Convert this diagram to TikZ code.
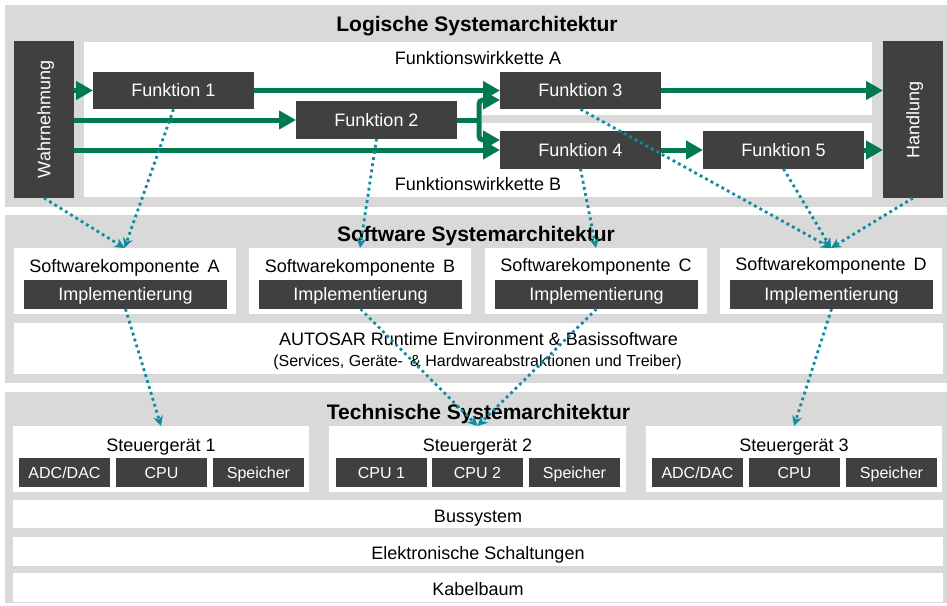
\documentclass[tikz,border=0pt]{standalone}
\usepackage{fontspec}
\setmainfont{Liberation Sans}
\usetikzlibrary{arrows.meta,calc}
\definecolor{panelgray}{RGB}{217,217,217}
\definecolor{boxgray}{RGB}{64,64,64}
\definecolor{flowgreen}{RGB}{0,122,78}
\definecolor{mapteal}{RGB}{14,140,158}
\newcommand{\fsz}[1]{\fontsize{#1}{#1}\selectfont}

\begin{document}
\begin{tikzpicture}[x=1pt,y=-1pt,
  every node/.style={inner sep=0pt,outer sep=0pt,font=\fsz{18}},
  panel/.style={fill=panelgray,minimum width=942pt},
  lightbox/.style={fill=white},
  darkbox/.style={fill=boxgray,text=white,text height=12.9pt,text depth=0pt},
  smallbox/.style={fill=boxgray,text=white,font=\fsz{16},text height=11.5pt,text depth=0pt,
    minimum width=91pt,minimum height=29pt},
  funcbox/.style={darkbox,minimum width=161pt,minimum height=37.5pt},
  implbox/.style={darkbox,minimum width=203pt,minimum height=29pt},
  swcbox/.style={lightbox,minimum width=222pt,minimum height=66pt},
  ecubox/.style={lightbox,minimum width=296pt,minimum height=66pt},
  layerbox/.style={lightbox,minimum width=930pt},
  lbl/.style={anchor=base},
  paneltitle/.style={anchor=base,font=\fsz{21}\bfseries},
  flow/.style={draw=flowgreen,line width=5pt,-{Triangle[length=17pt,width=18pt]}},
  flowline/.style={draw=flowgreen,line width=5pt},
  mapping/.style={draw=mapteal,line width=2.8pt,dash pattern=on 2.8pt off 3.4pt,
    -{Stealth[length=10pt,width=10pt]}},
]
\useasboundingbox (0,0) rectangle (947,605);

% ---------- logical layer ----------
\node[panel,minimum height=202pt] (logic) at (476,106) {};
\node[paneltitle] (logtitle) at (477,31) {Logische Systemarchitektur};
\node[lightbox,minimum width=398pt,minimum height=155pt] (chainjoin) at (283,119.5) {};
\node[lightbox,minimum width=788pt,minimum height=73pt] (chainA) at (478,78.5) {};
\node[lightbox,minimum width=788pt,minimum height=74pt] (chainB) at (478,160) {};
\node[lbl] (chainAlbl) at (478,64) {Funktionswirkkette A};
\node[lbl] (chainBlbl) at (478,190) {Funktionswirkkette B};

\node[darkbox,minimum width=157pt,minimum height=60pt,rotate=90] (wahr) at (44,119.5) {Wahrnehmung};
\node[darkbox,minimum width=157pt,minimum height=60pt,rotate=90] (hand) at (913,119.5) {Handlung};

\node[funcbox] (f1) at (173.5,90.5) {Funktion 1};
\node[funcbox] (f2) at (376.5,120) {Funktion 2};
\node[funcbox] (f3) at (580.5,90.5) {Funktion 3};
\node[funcbox] (f4) at (580.5,150) {Funktion 4};
\node[funcbox] (f5) at (783.5,150) {Funktion 5};

\coordinate (jn) at (479,120);
\coordinate (f3in) at (500,100);
\coordinate (f4in) at (500,140);

\draw[flow] (wahr.south |- f1.west) -- (f1.west);
\draw[flow] (wahr.south |- f2.west) -- (f2.west);
\draw[flow] (wahr.south |- f4.west) -- (f4.west);
\draw[flow] (f1.east) -- (f3.west);
\draw[flowline] (f2.east) -- (jn);
\draw[flow,rounded corners=4pt] (jn) |- (f3in);
\draw[flow,rounded corners=4pt] (jn) |- (f4in);
\draw[flow] (f3.east) -- (hand.north |- f3.east);
\draw[flow] (f4.east) -- (f5.west);
\draw[flow] (f5.east) -- (hand.north |- f5.east);

% ---------- software layer ----------
\node[panel,minimum height=168pt] (soft) at (476,299) {};
\node[paneltitle] (softtitle) at (476,241) {Software Systemarchitektur};

\node[swcbox] (swcA) at (124.5,281) {};
\node[swcbox] (swcB) at (360,281) {};
\node[swcbox] (swcC) at (596,281) {};
\node[swcbox] (swcD) at (831,281) {};
\node[lbl] (swcAlbl) at (124.5,272) {Softwarekomponente\, A};
\node[lbl] (swcBlbl) at (360,272) {Softwarekomponente\, B};
\node[lbl] (swcClbl) at (596,271) {Softwarekomponente\, C};
\node[lbl] (swcDlbl) at (831,270) {Softwarekomponente\, D};
\node[implbox] (implA) at (125.5,294.5) {Implementierung};
\node[implbox] (implB) at (360.5,294.5) {Implementierung};
\node[implbox] (implC) at (596.5,294.5) {Implementierung};
\node[implbox] (implD) at (831.5,294.5) {Implementierung};

\node[lightbox,minimum width=929pt,minimum height=51pt] (rte) at (478.5,348.5) {};
\node[lbl] (rtelbl) at (478.5,345.7) {AUTOSAR Runtime Environment \& Basissoftware};
\node[lbl,font=\fsz{16}] (rtesub) at (477.5,366.7) {(Services, Geräte-\, \& Hardwareabstraktionen und Treiber)};

% ---------- technical layer ----------
\node[panel,minimum height=211pt] (tech) at (476,497.5) {};
\node[paneltitle] (techtitle) at (478.5,419) {Technische Systemarchitektur};

\node[ecubox] (sg1) at (161,459) {};
\node[ecubox,minimum width=297pt] (sg2) at (477.5,459) {};
\node[ecubox] (sg3) at (794,459) {};
\node[lbl] (sg1lbl) at (161,451) {Steuergerät 1};
\node[lbl] (sg2lbl) at (477.5,451) {Steuergerät 2};
\node[lbl] (sg3lbl) at (794,451) {Steuergerät 3};

\node[smallbox] (sg1adc) at (64.5,472.5) {ADC/DAC};
\node[smallbox] (sg1cpu) at (161.5,472.5) {CPU};
\node[smallbox] (sg1mem) at (258.5,472.5) {Speicher};
\node[smallbox] (sg2cpua) at (381.5,472.5) {CPU 1};
\node[smallbox] (sg2cpub) at (477.5,472.5) {CPU 2};
\node[smallbox] (sg2mem) at (574.5,472.5) {Speicher};
\node[smallbox] (sg3adc) at (697.5,472.5) {ADC/DAC};
\node[smallbox] (sg3cpu) at (794.5,472.5) {CPU};
\node[smallbox] (sg3mem) at (891.5,472.5) {Speicher};

\node[layerbox,minimum height=28pt] (bus) at (478,514) {};
\node[layerbox,minimum height=29pt] (elek) at (478,551.5) {};
\node[layerbox,minimum height=29pt] (kabel) at (478,587.5) {};
\node[lbl] (buslbl) at (478,522.3) {Bussystem};
\node[lbl] (elektlbl) at (478,559.3) {Elektronische Schaltungen};
\node[lbl] (kabellbl) at (478,595) {Kabelbaum};

% ---------- mappings between layers ----------
\draw[mapping] (wahr.west) -- (swcA.north);
\draw[mapping] (f1.south) -- (swcA.north);
\draw[mapping] (f2.south) -- (swcB.north);
\draw[mapping] (f4.south) -- (swcC.north);
\draw[mapping] (f3.south) -- (swcD.north);
\draw[mapping] (f5.south) -- (swcD.north);
\draw[mapping] (hand.west) -- (swcD.north);
\draw[mapping] (implA.south) -- (sg1.north);
\draw[mapping] (implB.south) -- (sg2.north);
\draw[mapping] (implC.south) -- (sg2.north);
\draw[mapping] (implD.south) -- (sg3.north);
\end{tikzpicture}
\end{document}
